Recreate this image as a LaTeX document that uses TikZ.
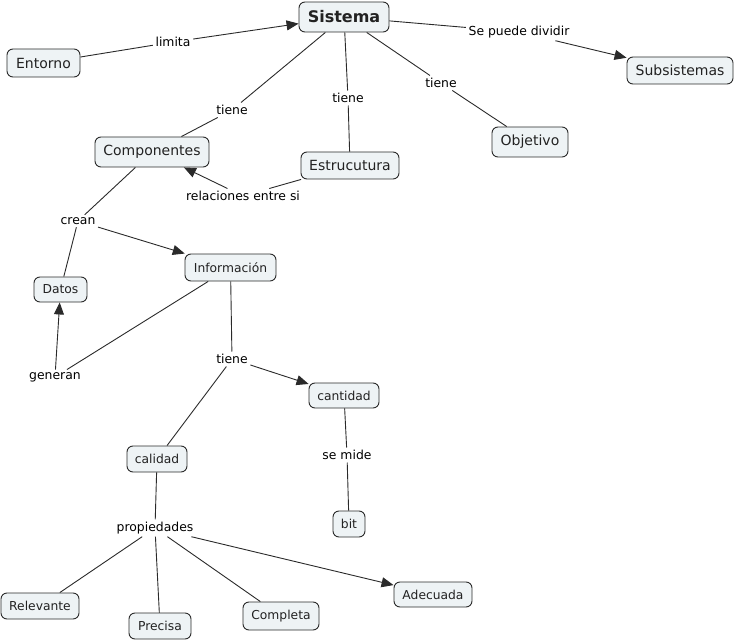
\documentclass[tikz,border=0pt]{standalone}
\usepackage{fontspec}
\setmainfont{DejaVu Sans}
\usetikzlibrary{arrows.meta}

\definecolor{conceptfill}{HTML}{EEF3F5}
\definecolor{conceptline}{HTML}{2A2A2A}
\definecolor{conceptink}{HTML}{222222}

\tikzset{
  concept/.style={draw=conceptline, fill=conceptfill, rounded corners=6bp,
    line width=0.9bp, inner sep=0pt, text=conceptink,
    font=\fontsize{14bp}{16bp}\selectfont},
  smallconcept/.style={concept, font=\fontsize{12.3bp}{14bp}\selectfont},
  linkword/.style={inner sep=2.5bp, text=black,
    font=\fontsize{12.4bp}{14bp}\selectfont},
  link/.style={line width=0.9bp, draw=conceptline},
  linkarrow/.style={link, -{Triangle[length=12bp,width=10bp]}},
}

\begin{document}
\begin{tikzpicture}[x=1bp, y=-1bp]
  \useasboundingbox (0,0) rectangle (735,641);

  % concepts
  \node[concept, minimum width=90bp, minimum height=30bp,
    font=\bfseries\fontsize{16bp}{18bp}\selectfont] (sistema) at (344,17) {Sistema};
  \node[concept, minimum width=73bp, minimum height=28bp] (entorno) at (43.5,63) {Entorno};
  \node[concept, minimum width=106bp, minimum height=27bp] (subsistemas) at (680,70.5) {Subsistemas};
  \node[concept, minimum width=114bp, minimum height=30bp] (componentes) at (152,152) {Componentes};
  \node[concept, minimum width=98bp, minimum height=27bp] (estructura) at (350,165.5) {Estrucutura};
  \node[concept, minimum width=76bp, minimum height=30bp] (objetivo) at (530,142) {Objetivo};
  \node[smallconcept, minimum width=91bp, minimum height=27bp] (informacion) at (230.5,267.5) {Información};
  \node[smallconcept, minimum width=53bp, minimum height=25bp] (datos) at (60.5,289.5) {Datos};
  \node[smallconcept, minimum width=70bp, minimum height=25bp] (cantidad) at (344,395.5) {cantidad};
  \node[smallconcept, minimum width=60bp, minimum height=26bp] (calidad) at (157,459) {calidad};
  \node[smallconcept, minimum width=32bp, minimum height=26bp] (bit) at (349,524) {bit};
  \node[smallconcept, minimum width=78bp, minimum height=26bp] (relevante) at (40,606) {Relevante};
  \node[smallconcept, minimum width=62bp, minimum height=26bp] (precisa) at (160,626) {Precisa};
  \node[smallconcept, minimum width=76bp, minimum height=28bp] (completa) at (281,616) {Completa};
  \node[smallconcept, minimum width=78bp, minimum height=25bp] (adecuada) at (433,594.5) {Adecuada};

  % linking words
  \node[linkword] (limita) at (173,42) {limita};
  \node[linkword] (tieneA) at (232,110) {tiene};
  \node[linkword] (tieneB) at (348,98) {tiene};
  \node[linkword] (tieneC) at (441,83) {tiene};
  \node[linkword] (dividir) at (519,32) {Se puede dividir};
  \node[linkword] (relaciones) at (243,196) {relaciones entre si};
  \node[linkword] (crean) at (78,221) {crean};
  \node[linkword] (generan) at (55,377) {generan};
  \node[linkword] (tieneD) at (232,359) {tiene};
  \node[linkword] (semide) at (347,455) {se mide};
  \node[linkword] (propiedades) at (155,528) {propiedades};

  % connectors
  \draw[link] (entorno) -- (limita);
  \draw[linkarrow] (limita) -- (sistema);
  \draw[link] (sistema) -- (tieneA) -- (componentes);
  \draw[link] (sistema) -- (tieneB) -- (estructura);
  \draw[link] (sistema) -- (tieneC) -- (objetivo);
  \draw[link] (sistema) -- (dividir);
  \draw[linkarrow] (dividir) -- (subsistemas);
  \draw[link] (estructura) -- (relaciones);
  \draw[linkarrow] (relaciones) -- (componentes);
  \draw[link] (componentes) -- (crean) -- (datos);
  \draw[linkarrow] (crean) -- (informacion);
  \draw[link] (informacion) -- (generan);
  \draw[linkarrow] (generan) -- (datos);
  \draw[link] (informacion) -- (tieneD) -- (calidad);
  \draw[linkarrow] (tieneD) -- (cantidad);
  \draw[link] (cantidad) -- (semide) -- (bit);
  \draw[link] (calidad) -- (propiedades);
  \draw[link] (propiedades) -- (relevante);
  \draw[link] (propiedades) -- (precisa);
  \draw[link] (propiedades) -- (completa);
  \draw[linkarrow] (propiedades) -- (adecuada);
\end{tikzpicture}
\end{document}
